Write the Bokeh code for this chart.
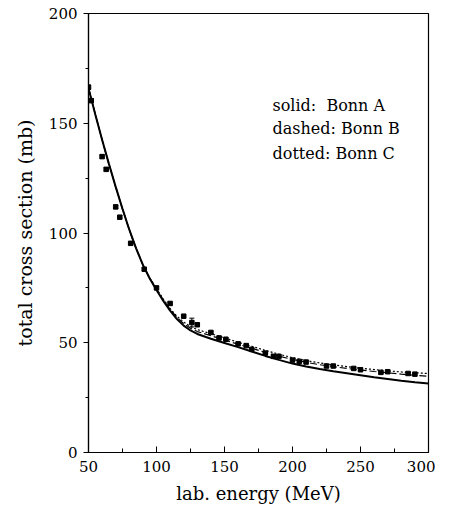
from bokeh.plotting import figure
from bokeh.models import Range1d, FixedTicker, Label, Whisker, ColumnDataSource
from bokeh.embed import file_html
from bokeh.resources import INLINE

# experimental data
exp_energy = [50, 52, 60, 63, 70, 73, 81, 91, 100, 110, 120, 126, 130, 140, 146, 151, 160, 166,
              170, 180, 186, 190, 200, 205, 210, 225, 230, 245, 250, 265, 270, 285, 290]
exp_sigma = [166.4, 160.3, 134.8, 129.0, 111.9, 107.2, 95.3, 83.5, 75.0, 67.9, 62.1, 59.2, 58.2,
             54.7, 52.2, 51.6, 49.5, 48.7, 47.0, 45.3, 43.8, 43.8, 42.1, 41.5, 41.2, 39.4, 39.4,
             38.3, 37.7, 36.5, 36.8, 36.0, 35.7]
exp_err = [1.0, 0.8, 0.7, 0.7, 0.7, 0.7, 0.6, 0.6, 0.6, 0.6, 0.5, 2.0, 0.6,
           0.5, 0.5, 0.5, 0.5, 0.5, 0.5, 0.5, 0.5, 0.5, 0.5, 0.5, 0.5, 0.6, 0.5,
           0.5, 0.5, 0.5, 0.8, 0.5, 0.5]

# theory curves
th_energy = [50, 55, 60, 65, 70, 75, 80, 85, 90, 95, 100, 105, 110, 115, 120, 125, 130, 140, 150,
             160, 170, 180, 190, 200, 210, 220, 230, 240, 250, 260, 270, 280, 290, 300]
bonn_a = [166.0, 154.0, 142.5, 131.5, 121.0, 111.0, 101.5, 93.0, 85.5, 79.3, 74.0, 69.0, 64.6,
          60.8, 57.8, 55.6, 54.0, 51.8, 49.9, 48.0, 46.0, 44.0, 42.2, 40.5, 39.2, 38.0, 37.0,
          36.1, 35.2, 34.3, 33.5, 32.7, 32.0, 31.4]
bonn_b = [166.0, 154.0, 142.5, 131.5, 121.0, 111.0, 101.5, 93.0, 85.5, 79.5, 74.4, 69.6, 65.2,
          61.6, 58.7, 56.6, 55.1, 53.2, 51.3, 49.3, 47.5, 45.6, 43.9, 42.4, 41.1, 40.0, 39.1,
          38.3, 37.6, 36.9, 36.3, 35.7, 35.2, 34.7]
bonn_c = [166.0, 154.0, 142.5, 131.5, 121.0, 111.0, 101.5, 93.0, 85.5, 79.6, 74.6, 69.9, 65.6,
          62.1, 59.4, 57.4, 56.0, 54.1, 52.2, 50.2, 48.4, 46.5, 44.8, 43.2, 41.9, 40.8, 39.9,
          39.1, 38.4, 37.8, 37.2, 36.7, 36.3, 36.0]

x_ticks = [50, 100, 150, 200, 250, 300]
y_ticks = [0, 50, 100, 150, 200]
legend_lines = ["solid:\u00a0\u00a0Bonn A", "dashed: Bonn B", "dotted: Bonn C"]
legend_y = [158, 147.5, 136]

FONT = "DejaVu Serif"

p = figure(width=435, height=508, output_backend="svg", toolbar_location=None,
           x_range=Range1d(50, 300), y_range=Range1d(0, 200),
           min_border_left=88, min_border_right=7, min_border_top=13, min_border_bottom=56)
p.background_fill_color = "white"
p.border_fill_color = "white"
p.grid.visible = False
p.outline_line_color = "black"
p.outline_line_width = 1.2

p.line(th_energy, bonn_a, line_color="black", line_width=2)
p.line(th_energy, bonn_b, line_color="black", line_width=1.2, line_dash="7 3")
p.line(th_energy, bonn_c, line_color="black", line_width=1.2, line_dash="2 2")

src = ColumnDataSource(dict(x=exp_energy, y=exp_sigma,
                            lo=[s - e for s, e in zip(exp_sigma, exp_err)],
                            hi=[s + e for s, e in zip(exp_sigma, exp_err)]))
w = Whisker(source=src, base="x", lower="lo", upper="hi", line_color="black", line_width=1)
w.upper_head.size = 5
w.lower_head.size = 5
w.upper_head.line_color = "black"
w.lower_head.line_color = "black"
p.add_layout(w)
p.scatter("x", "y", source=src, marker="square", size=4.5, color="black")

# axes
xa = p.xaxis[0]
xa.ticker = FixedTicker(ticks=x_ticks, minor_ticks=[75, 125, 175, 225, 275])
xa.axis_label = "lab. energy (MeV)"
ya = p.yaxis[0]
ya.ticker = FixedTicker(ticks=y_ticks, minor_ticks=[25, 75, 125, 175])
ya.axis_label = "total cross section (mb)"

for ax in (xa, ya):
    ax.axis_label_text_font = FONT
    ax.axis_label_text_font_style = "normal"
    ax.axis_label_text_font_size = "19px"
    ax.axis_label_text_color = "black"
    ax.major_label_text_font = FONT
    ax.major_label_text_font_size = "15px"
    ax.major_label_text_color = "black"
    ax.axis_line_color = "black"
    ax.axis_line_width = 1.2
    ax.major_tick_line_color = "black"
    ax.minor_tick_line_color = "black"

xa.axis_label_text_font_size = "18px"
xa.major_tick_in = 6
xa.major_tick_out = 0
xa.minor_tick_in = 4
xa.minor_tick_out = 0
xa.major_label_standoff = 8
xa.axis_label_standoff = 8

ya.major_tick_in = 0
ya.major_tick_out = 5
ya.minor_tick_in = 0
ya.minor_tick_out = 3
ya.major_label_standoff = 6
ya.axis_label_standoff = 10

for t, yy in zip(legend_lines, legend_y):
    p.add_layout(Label(x=185.3, y=yy, text=t, text_font=FONT,
                       text_font_size="16px", text_baseline="middle", text_color="black"))

open("out.html", "w").write(file_html(p, INLINE))
